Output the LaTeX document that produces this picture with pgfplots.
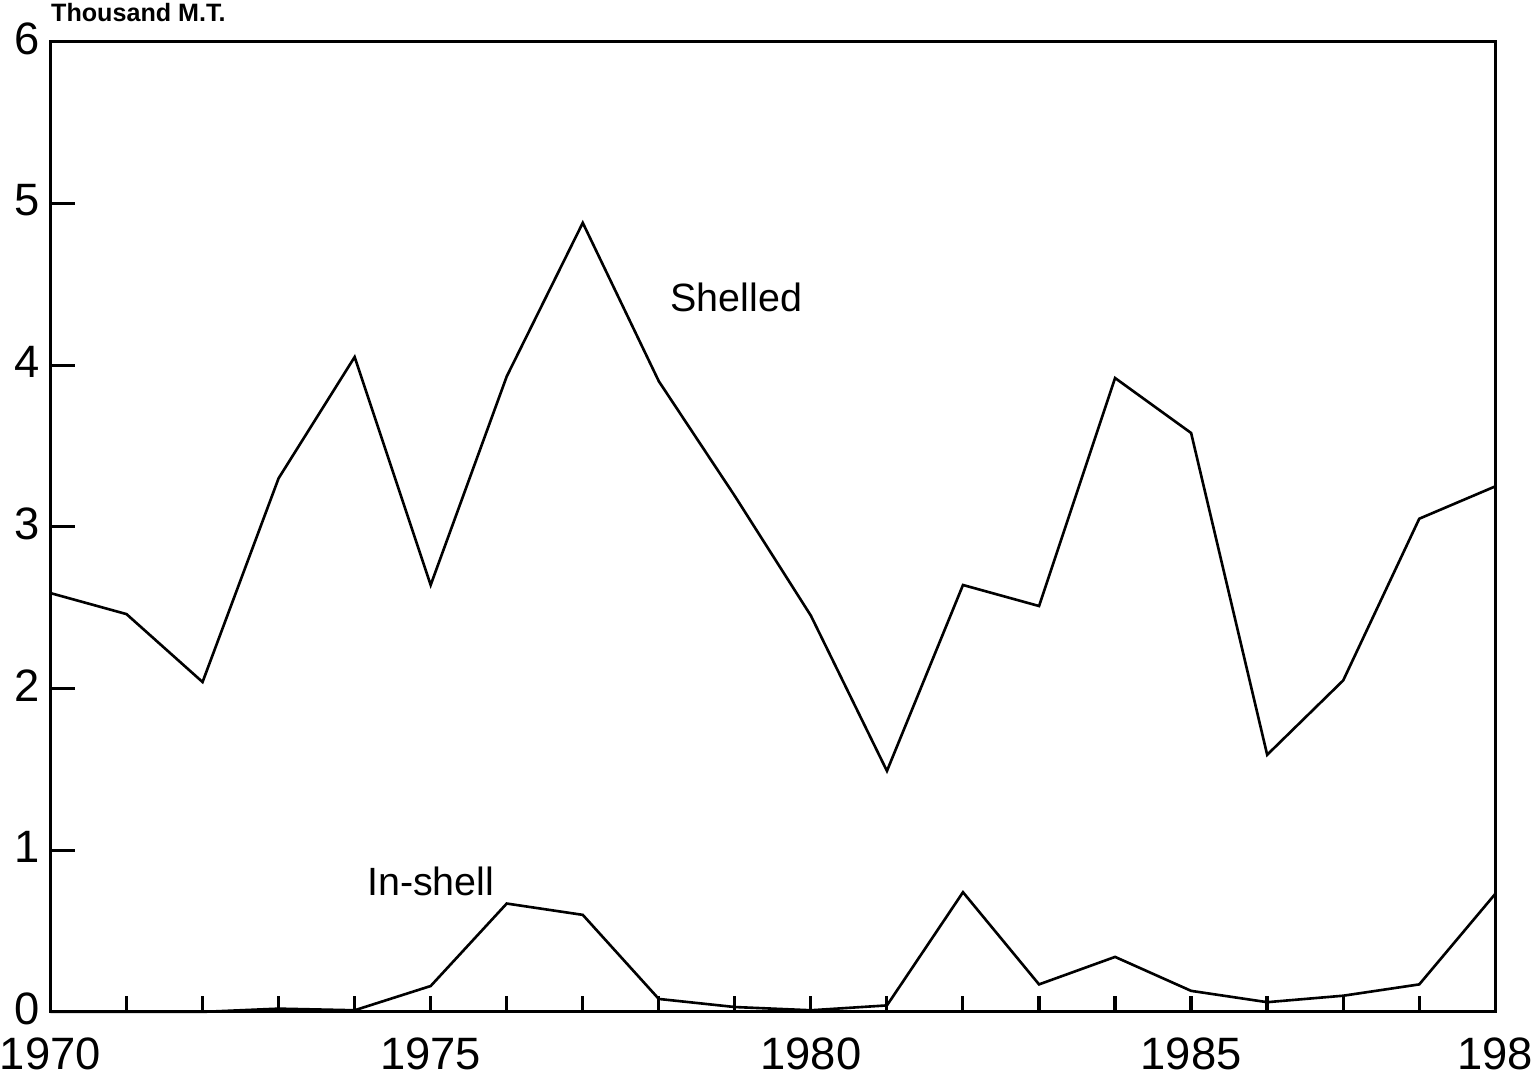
\documentclass[border=0pt]{standalone}
\usepackage{pgfplots}
\pgfplotsset{compat=1.18}
\usepackage{fontspec}
\setmainfont{Liberation Sans}
\pgfplotstableread{
year shelled inshell
1970 2.59 0.00
1971 2.46 0.00
1972 2.04 0.00
1973 3.30 0.02
1974 4.05 0.01
1975 2.64 0.16
1976 3.93 0.67
1977 4.88 0.60
1978 3.90 0.08
1979 3.19 0.03
1980 2.45 0.01
1981 1.49 0.04
1982 2.64 0.74
1983 2.51 0.17
1984 3.92 0.34
1985 3.58 0.13
1986 1.59 0.06
1987 2.05 0.10
1988 3.05 0.17
1989 3.25 0.73
}\data
\begin{document}
\begin{tikzpicture}
\begin{axis}[
  scale only axis,
  width=14.55cm, height=9.77cm,
  xmin=1970, xmax=1989, ymin=0, ymax=6,
  axis line style={line width=0.9pt, black},
  xtick={1970,...,1989},
  xticklabels={1970,,,,,1975,,,,,1980,,,,,1985,,,,198},
  ytick={0,1,2,3,4,5,6},
  xtick pos=bottom, ytick pos=left,
  tick align=inside,
  xtick style={line width=0.9pt, black, /pgfplots/major tick length=0.16cm},
  ytick style={line width=0.9pt, black, /pgfplots/major tick length=0.25cm},
  ticklabel style={font=\fontsize{13}{15}\selectfont, inner sep=0pt},
  /pgf/number format/assume math mode=true,
  xticklabel style={/pgf/number format/1000 sep={}, anchor=north, yshift=-0.25cm},
  yticklabel style={anchor=east, xshift=-0.1cm, yshift=0.03cm},
  clip=false,
]
\addplot[black, line width=0.75pt] table[x=year, y=shelled] {\data};
\addplot[black, line width=0.75pt] table[x=year, y=inshell] {\data};
\node[font=\fontsize{11.3}{13}\selectfont] at (axis cs:1979.02,4.42) {Shelled};
\node[font=\fontsize{11.3}{13}\selectfont] at (axis cs:1975.0,0.81) {In-shell};
\node[font=\bfseries\fontsize{7.2}{9}\selectfont, anchor=south west, inner sep=0pt] at ([yshift=0.19cm]rel axis cs:0,1) {Thousand M.T.};
\path ([yshift=0.42cm]rel axis cs:0,1);
\path ([yshift=-0.66cm]rel axis cs:0,0);
\end{axis}
\end{tikzpicture}
\end{document}
